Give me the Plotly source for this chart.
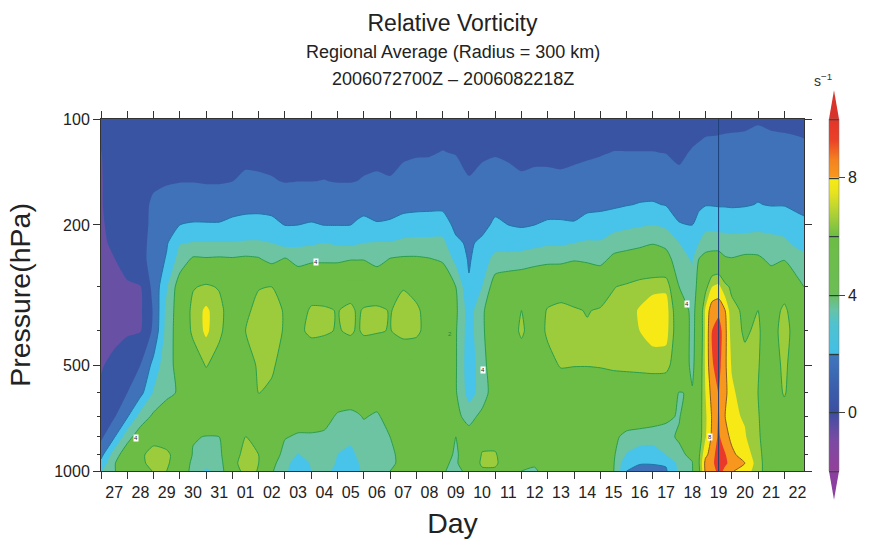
import numpy as np
import pandas as pd
import plotly.graph_objects as go

pressure = [100, 125, 150, 175, 200, 225, 250, 300, 350, 400, 500, 600, 700, 800, 900, 950, 1000]
day_offsets = [0, .5, 1, 1.5, 2, 2.5, 3, 3.5, 4, 4.5,
               5, 5.5, 6, 6.5, 7, 7.5, 8, 8.5, 9, 9.5, 9.75,
               10, 10.5, 11, 11.5, 12, 12.5, 13, 13.5, 14, 14.5,
               15, 15.5, 16, 16.5, 17, 17.5, 18, 18.5, 19, 19.5,
               20, 20.5, 21, 21.5, 22, 22.5, 22.75, 23, 23.25, 23.5,
               23.75, 24, 24.5, 25, 25.5, 26, 26.5, 26.75]

z_100 = [.2,.4,.5,.5,.5,.5,.5,.5,.5,.5,
         .5,.55,.55,.5,.5,.5,.5,.5,.5,.5,.5,
         .55,.55,.55,.6,.6,.6,.65,.6,.5,.55,
         .6,.55,.55,.55,.55,.55,.55,.6,.6,.65,
         .65,.65,.65,.65,.55,.7,.75,.8,.8,.82,
         .83,.85,.86,.92,.87,.85,.82,.8]
z_125 = [-.02,.3,.45,.5,.65,.75,.78,.78,.76,.76,
         .8,.85,.84,.82,.78,.8,.8,.81,.78,.78,.8,
         .82,.85,.82,.9,.94,.95,1.03,.97,.82,.9,
         .95,.9,.85,.87,.87,.86,.88,.92,.96,1.02,
         1.02,1.02,1.02,.99,.88,1.06,1.12,1.18,1.2,1.2,
         1.22,1.22,1.25,1.35,1.25,1.22,1.18,1.15]
z_150 = [-.05,.3,.4,.6,.85,.93,.97,.97,.94,.94,
         .99,1.1,1.08,1.04,.97,.99,.99,1.01,.97,.97,1.0,
         1.04,1.08,1.04,1.2,1.3,1.32,1.45,1.35,1.04,1.2,
         1.32,1.2,1.08,1.13,1.13,1.1,1.16,1.22,1.3,1.42,
         1.45,1.5,1.5,1.4,1.16,1.5,1.6,1.65,1.66,1.66,
         1.66,1.66,1.68,1.75,1.7,1.68,1.6,1.58]
z_175 = [-.05,.3,.45,.7,1.15,1.3,1.4,1.42,1.38,1.38,
         1.45,1.55,1.55,1.5,1.38,1.42,1.42,1.4,1.38,1.4,1.45,
         1.5,1.5,1.48,1.65,1.72,1.75,1.75,1.5,1.3,1.45,
         1.7,1.55,1.45,1.5,1.58,1.58,1.58,1.68,1.72,1.82,
         1.95,2.05,2.08,1.95,1.55,1.55,1.8,1.95,1.95,1.92,
         1.92,1.9,1.93,2.03,1.95,1.95,1.8,1.75]
z_200 = [-.1,.25,.4,.7,1.2,1.55,2.0,2.1,2.1,2.1,
         2.35,2.5,2.55,2.4,1.98,2.0,2.1,1.98,1.98,2.0,2.2,
         2.4,2.1,2.2,2.45,2.5,2.5,2.5,1.75,1.55,1.7,
         2.2,2.0,1.9,2.0,2.15,2.15,2.1,2.45,2.55,2.7,
         2.8,2.9,3.0,2.8,2.08,2.0,2.4,2.7,2.7,2.65,
         2.6,2.55,2.6,2.75,2.65,2.6,2.3,2.2]
z_225 = [-.15,.15,.4,.7,1.3,1.9,2.95,3.05,3.05,3.05,
         3.05,3.08,3.08,3.0,2.65,2.8,2.85,3.0,2.85,2.8,2.9,
         3.0,3.05,3.05,3.2,3.25,3.25,3.25,2.2,1.85,2.2,
         2.6,2.6,2.6,2.7,2.85,2.85,3.0,3.1,3.08,3.4,
         3.6,3.75,3.95,3.75,3.0,2.3,3.0,3.5,3.55,3.55,
         3.5,3.45,3.5,3.4,3.35,3.2,2.75,2.65]
z_250 = [-.2,-.02,.3,.7,1.35,2.1,3.4,4.15,4.1,4.15,
         4.1,4.2,4.1,3.6,4.1,3.6,3.8,3.8,3.8,3.95,3.95,
         3.95,3.55,4.05,4.15,4.15,4.05,3.85,2.7,1.9,2.5,
         3.3,3.3,3.4,3.6,3.7,3.7,3.9,3.8,3.6,4.3,
         4.45,4.6,4.6,4.4,3.4,2.9,4.0,4.35,4.45,4.45,
         4.1,4.05,4.2,4.2,3.75,3.95,3.45,3.3]
z_300 = [-.4,-.3,-.1,-.05,1.3,2.9,4.6,5.9,6.2,5.9,
         5.4,5.5,5.95,6.0,5.9,5.1,5.2,5.3,5.3,5.3,5.3,
         5.3,5.2,5.6,5.95,5.6,5.3,5.0,4.0,2.1,3.0,
         4.6,4.9,5.0,5.1,5.3,5.4,5.4,5.3,5.3,5.95,
         6.2,6.5,6.7,6.8,4.0,3.4,4.4,5.6,7.0,7.3,
         6.3,5.8,5.0,5.0,4.8,5.0,4.3,4.0]
z_350 = [-.5,-.3,-.2,-.15,1.1,3.3,4.6,6.4,7.2,6.4,
         5.2,5.8,6.3,6.4,5.9,5.3,6.2,6.15,5.95,6.3,5.85,
         6.1,6.2,5.95,6.3,6.2,5.5,5.1,4.2,2.5,3.8,
         4.9,5.3,6.0,5.3,6.1,6.3,6.1,5.95,6.1,6.3,
         6.6,7.1,7.6,7.5,4.8,3.7,4.5,7.2,8.6,8.7,
         8.0,6.3,5.8,6.0,5.0,6.4,4.7,4.4]
z_400 = [-.5,-.35,-.15,-.05,1.2,3.4,4.6,6.3,7.2,6.3,
         5.1,6.0,6.4,6.4,5.9,5.7,6.3,6.2,5.9,6.2,5.85,
         6.2,6.1,5.95,6.4,6.3,5.4,5.0,4.1,2.5,3.8,
         4.9,5.3,6.2,5.3,6.2,6.4,6.3,6.1,6.5,6.4,
         6.6,7.0,7.5,7.4,5.0,3.7,4.6,7.2,9.0,9.6,
         8.3,6.5,5.85,6.2,5.0,6.9,4.8,4.5]
z_500 = [-.1,.3,.75,1.0,2.3,3.7,4.3,5.1,6.1,5.4,
         4.8,5.5,6.15,6.25,5.3,4.8,4.8,4.7,4.7,4.7,4.7,
         4.7,4.7,4.7,4.7,4.7,4.7,4.5,4.1,2.4,3.6,
         4.8,4.9,5.3,5.1,5.6,6.1,6.05,6.05,6.1,6.2,
         6.25,6.3,6.4,6.45,5.0,3.7,4.9,7.2,8.9,9.4,
         8.2,6.9,6.3,6.1,5.0,6.4,4.8,4.6]
z_600 = [.2,.7,1.0,1.7,3.1,3.8,4.1,4.7,5.0,4.9,
         4.7,5.3,6.02,5.7,5.0,4.6,4.6,4.6,4.5,4.5,4.5,
         4.5,4.4,4.6,4.7,4.7,4.7,4.5,4.1,2.6,3.4,
         4.7,4.8,4.9,5.0,5.1,5.2,5.2,5.1,5.1,5.2,
         5.2,5.2,5.1,4.8,3.95,4.1,5.2,7.0,8.4,9.05,
         8.3,7.2,6.5,6.0,5.0,6.15,4.9,4.7]
z_700 = [.6,.9,1.9,3.4,4.2,4.5,4.8,5.0,5.0,5.0,
         4.9,5.0,5.0,4.9,4.6,4.4,4.4,4.3,3.9,3.8,3.9,
         4.05,3.9,4.3,4.7,4.7,4.6,4.5,4.3,3.6,4.3,
         4.8,4.8,4.8,4.8,4.9,4.9,4.9,4.8,4.8,4.7,
         4.6,4.6,4.4,4.1,3.95,4.6,5.4,6.8,8.1,9.1,
         8.0,7.2,6.9,6.1,5.0,5.3,4.9,4.8]
z_800 = [.8,1.9,3.6,4.6,5.6,5.5,4.9,4.1,3.95,4.0,
         5.2,6.05,5.2,4.6,4.05,3.9,3.9,3.85,3.6,3.3,3.5,
         3.7,3.8,4.0,4.5,4.6,4.6,4.4,4.0,4.5,5.5,
         5.4,5.0,4.9,4.8,4.8,4.7,4.7,4.6,4.4,4.2,
         3.75,3.6,3.6,3.8,4.1,4.7,5.4,6.9,8.2,9.2,
         8.3,7.8,7.1,6.2,5.0,4.9,4.8,4.7]
z_900 = [1.7,3.5,4.7,5.8,6.4,6.2,5.5,3.9,3.5,3.7,
         5.3,6.5,6.0,4.5,3.7,2.9,3.5,3.6,3.0,2.7,3.1,
         3.4,3.5,3.8,4.3,4.6,4.6,4.3,3.9,4.4,6.1,
         6.15,5.0,4.6,4.5,4.6,4.6,4.6,4.5,4.4,4.15,
         2.9,2.4,2.3,3.0,3.8,4.2,5.8,7.8,8.4,9.8,
         9.1,8.2,7.6,6.4,5.0,4.8,4.7,4.6]
z_950 = [2.3,3.9,4.9,5.8,6.3,6.15,5.4,3.6,3.2,3.4,
         5.6,6.6,6.0,4.3,3.4,2.4,3.1,3.5,2.9,2.4,2.9,
         3.3,3.5,3.7,4.4,4.5,4.5,4.2,3.8,5.0,6.2,
         6.3,4.9,4.3,4.1,4.5,4.6,4.5,4.4,4.3,4.1,
         2.2,2.1,2.1,2.1,3.3,3.95,5.9,8.3,8.6,9.9,
         9.2,8.6,8.0,6.5,5.0,4.7,4.6,4.5]
z_1000 = [2.9,3.9,4.9,5.6,6.05,6.0,5.1,3.5,2.9,3.2,
          5.5,6.3,5.95,4.1,3.3,2.0,3.0,3.4,2.6,2.2,2.8,
          3.2,3.5,4.0,4.4,4.5,4.4,4.1,3.7,4.3,5.8,
          5.7,4.7,4.0,3.9,4.3,4.5,4.4,4.3,4.2,4.05,
          2.0,1.5,1.5,1.9,3.2,3.9,5.7,8.2,8.2,9.5,
          8.7,8.1,7.5,6.5,5.0,4.7,4.5,4.4]

tick_pressures = [100, 200, 500, 1000]
minor_pressures = [300, 400, 600, 700, 800, 900]
colorbar_ticks = [0, 4, 8]

label_days = [8.18, 1.33, 14.54, 22.3, 23.17]
label_pressures = [255, 805, 517, 336, 800]
label_texts = ["4", "4", "4", "4", "8"]

storm_day = 23.5
start = pd.Timestamp("2006-07-27")
end = pd.Timestamp("2006-08-22 18:00")


def stamp(offset):
    return (start + pd.to_timedelta(offset, unit="D")).strftime("%Y-%m-%d %H:%M")


times = [stamp(d) for d in day_offsets]
z = np.array([z_100, z_125, z_150, z_175, z_200, z_225, z_250, z_300, z_350, z_400,
              z_500, z_600, z_700, z_800, z_900, z_950, z_1000])

vmin, vmax = -2, 10
bands = ["#8a449f", "#6850a4", "#3a54a4", "#3f72b8", "#48c3ea", "#6cc4a2",
         "#6cbd45", "#6cbd45", "#9ccb3b", "#f7e916", "#f7971d", "#e8392a"]
band_scale = []
for i, c in enumerate(bands):
    band_scale += [[i / len(bands), c], [(i + 1) / len(bands), c]]

smooth = [(-2, "#93409b"), (-1, "#7d49a3"), (-.5, "#5f4ca3"), (0, "#3b4ea2"), (1, "#3b62af"),
          (1.98, "#3f78bd"), (2.02, "#42bfe6"), (3, "#50c2d0"), (3.5, "#66c3a6"), (4.1, "#6cbd55"),
          (6, "#6cbd45"), (6.7, "#a8cf38"), (7.5, "#e8e31f"), (7.98, "#f7ec13"), (8.02, "#f7981d"),
          (8.6, "#f58220"), (9.3, "#ea4027"), (10, "#e3342a")]
smooth_scale = [[(v - vmin) / (vmax - vmin), c] for v, c in smooth]

fig = go.Figure()
# Carries the gradient colorbar; entirely covered by the banded fill drawn next.
fig.add_trace(go.Contour(
    x=times, y=pressure, z=z, zmin=vmin, zmax=vmax,
    colorscale=smooth_scale, showscale=True,
    contours=dict(coloring="heatmap", start=vmin, end=vmax, size=2),
    line=dict(width=1.2, color="#2b3a3a"),
    colorbar=dict(x=(829 - 101) / 703, xanchor="left", xpad=0, ypad=0, y=0, yanchor="bottom", len=1,
                  thickness=10, thicknessmode="pixels", lenmode="fraction",
                  outlinewidth=0.5, outlinecolor="#777", tickmode="array", tickvals=colorbar_ticks,
                  ticks="outside", ticklen=6, tickcolor="#444", tickprefix="\u00a0",
                  tickfont=dict(family="Liberation Sans", size=16, color="#222")),
    hoverinfo="skip"))
fig.add_trace(go.Contour(
    x=times, y=pressure, z=z, zmin=vmin, zmax=vmax, colorscale=band_scale, showscale=False,
    contours=dict(coloring="fill", start=vmin, end=vmax, size=1),
    line=dict(width=0, smoothing=0.6), hoverinfo="skip"))

for level, colour in [(2, "#1c75a8"), (4, "#2a9e4c"), (6, "#2a9e4c"), (8, "#8a5a1e")]:
    fig.add_trace(go.Contour(
        x=times, y=pressure, z=z, showscale=False,
        contours=dict(coloring="none", start=level, end=level, size=1),
        line=dict(width=1, color=colour, smoothing=0.6), hoverinfo="skip"))

fig.add_trace(go.Scatter(x=[stamp(storm_day)] * 2, y=[pressure[0], pressure[-1]], mode="lines",
                         line=dict(color="#1d3f7a", width=1), showlegend=False, hoverinfo="skip"))

cb_left, cb_right = (829 - 101) / 703, (839 - 101) / 703
cb_mid = (cb_left + cb_right) / 2
shapes = [
    dict(type="path", xref="paper", yref="paper", line=dict(width=0), fillcolor="#d9342b",
         path=f"M {cb_left} 1 L {cb_right} 1 L {cb_mid} 1.082 Z"),
    dict(type="path", xref="paper", yref="paper", line=dict(width=0), fillcolor="#8b3f9e",
         path=f"M {cb_left} 0 L {cb_right} 0 L {cb_mid} -0.082 Z"),
]

annotations = [
    dict(text="Regional Average (Radius = 300 km)", xref="paper", yref="paper", x=0.5, y=1 + (119 - 52) / 352,
         yanchor="middle", showarrow=False, font=dict(family="Liberation Sans", size=18, color="#222")),
    dict(text="2006072700Z \u2013 2006082218Z", xref="paper", yref="paper", x=0.5, y=1 + (119 - 79) / 352,
         yanchor="middle", showarrow=False, font=dict(family="Liberation Sans", size=18, color="#222")),
    dict(text="s<sup>\u22121</sup>", xref="paper", yref="paper", x=cb_mid, y=1 + (119 - 80) / 352,
         yanchor="middle", showarrow=False, font=dict(family="Liberation Sans", size=14, color="#333")),
    dict(text="2", x=stamp(13.28), y=np.log10(408), showarrow=False,
         font=dict(family="Liberation Sans", size=6, color="#1f8a40")),
]
for d, p, t in zip(label_days, label_pressures, label_texts):
    annotations.append(dict(text=t, x=stamp(d), y=np.log10(p), showarrow=False, bgcolor="white",
                            borderpad=0, font=dict(family="Liberation Sans", size=6, color="#222")))

fig.update_layout(
    width=885, height=539, autosize=False,
    margin=dict(l=101, r=81, t=119, b=68),
    paper_bgcolor="white", plot_bgcolor="white", showlegend=False,
    title=dict(text="Relative Vorticity", x=0.5, xref="paper", xanchor="center", y=1 - 23 / 539, yanchor="middle",
               font=dict(family="Liberation Sans", size=23, color="#222")),
    shapes=shapes, annotations=annotations,
    xaxis=dict(type="date", range=[stamp(0), end.strftime("%Y-%m-%d %H:%M")], tick0="2006-07-27",
               dtick=86400000, tickformat="%d", ticklabelmode="period", automargin=False,
               ticks="outside", ticklen=7, tickcolor="#333", mirror="ticks", showline=True,
               linecolor="#333", linewidth=1, showgrid=False, zeroline=False,
               tickfont=dict(family="Liberation Sans", size=16, color="#222"),
               title=dict(text="Day", font=dict(family="Liberation Sans", size=28.5, color="#222"))),
    yaxis=dict(type="log", range=[3, 2], tickmode="array", tickvals=tick_pressures, automargin=False,
               ticktext=[str(p) for p in tick_pressures],
               ticks="outside", ticklen=7, tickcolor="#333", mirror="ticks", showline=True,
               linecolor="#333", linewidth=1, showgrid=False, zeroline=False,
               minor=dict(tickmode="array", tickvals=minor_pressures, ticks="outside", ticklen=3, tickcolor="#333", showgrid=False),
               tickfont=dict(family="Liberation Sans", size=16, color="#222"),
               title=dict(text="Pressure(hPa)", font=dict(family="Liberation Sans", size=28.5, color="#222"))),
)

fig.write_html("out.html", config={"displayModeBar": False}, post_script="document.body.style.margin='0';")
